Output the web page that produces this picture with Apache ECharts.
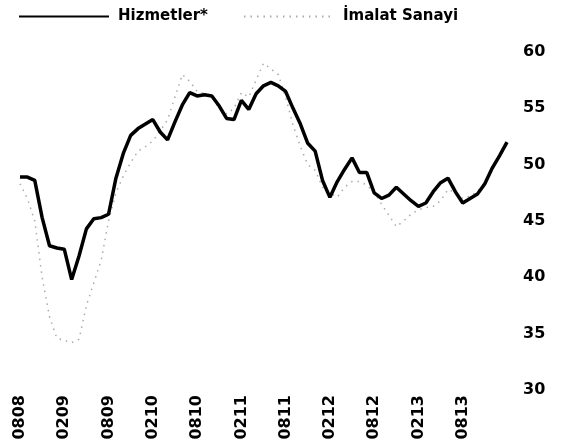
<!DOCTYPE html>
<html>
<head>
<meta charset="utf-8">
<script src="https://cdn.jsdelivr.net/npm/echarts@6/dist/echarts.min.js"></script>
<style>
  html, body { margin: 0; padding: 0; background: #fff; }
  #chart { width: 565px; height: 447px; }
</style>
</head>
<body>
<div id="chart"></div>
<script>
// aylar (AAYY), Ağustos 2008 - Şubat 2014
const months = [
  '0808', '0908', '1008', '1108', '1208', '0109', '0209', '0309', '0409', '0509', '0609', '0709',
  '0809', '0909', '1009', '1109', '1209', '0110', '0210', '0310', '0410', '0510', '0610', '0710',
  '0810', '0910', '1010', '1110', '1210', '0111', '0211', '0311', '0411', '0511', '0611', '0711',
  '0811', '0911', '1011', '1111', '1211', '0112', '0212', '0312', '0412', '0512', '0612', '0712',
  '0812', '0912', '1012', '1112', '1212', '0113', '0213', '0313', '0413', '0513', '0613', '0713',
  '0813', '0913', '1013', '1113', '1213', '0114', '0214'
]

// Hizmetler*
const services = [
  48.9, 48.9, 48.6, 45.3, 42.8, 42.6, 42.5, 39.8, 41.9, 44.3, 45.2, 45.3,
  45.6, 48.8, 51.0, 52.6, 53.2, 53.6, 54.0, 52.9, 52.2, 53.8, 55.3, 56.4,
  56.1, 56.2, 56.1, 55.2, 54.1, 54.0, 55.7, 54.9, 56.3, 57.0, 57.3, 57.0,
  56.5, 55.0, 53.6, 51.9, 51.2, 48.6, 47.1, 48.5, 49.6, 50.6, 49.3, 49.3,
  47.5, 47.0, 47.3, 48.0, 47.4, 46.8, 46.3, 46.6, 47.6, 48.4, 48.8, 47.6,
  46.6, 47.0, 47.4, 48.3, 49.7, 50.8, 52.0
]

// İmalat Sanayi
const manufacturing = [
  48.3, 47.0, 45.0, 40.0, 36.5, 34.6, 34.4, 34.2, 34.5, 37.5, 39.5, 41.5,
  45.0, 47.5, 49.0, 50.2, 51.2, 51.6, 52.1, 53.0, 54.0, 56.0, 58.0, 57.4,
  56.5, 56.3, 56.0, 55.0, 54.5, 55.0, 56.4, 56.0, 57.5, 59.0, 58.5, 58.0,
  56.0, 53.5, 51.6, 50.0, 49.5, 48.0, 47.5, 47.1, 48.0, 48.5, 48.5, 48.2,
  47.5, 46.5, 45.5, 44.5, 45.0, 45.6, 46.0, 46.2, 46.3, 46.8, 47.8, 47.5,
  47.0, 47.2, 47.6, 48.5, 49.8, 50.8, 51.8
]

const yTicks = [30, 35, 40, 45, 50, 55, 60]

const fontFamily = 'DejaVu Sans'

const myChart = echarts.init(document.getElementById('chart'))

const option = {
  backgroundColor: '#fff',
  animation: false,
  legend: {
    left: 13,
    top: 4,
    itemWidth: 90,
    itemHeight: 14,
    itemGap: 35,
    // sadece çizgi, sembol yok
    itemStyle: { opacity: 0 },
    textStyle: {
      fontFamily: fontFamily,
      fontSize: 15,
      fontWeight: 'bold',
      color: '#000',
      padding: [0, 0, 0, 4]
    },
    data: ['Hizmetler*', 'İmalat Sanayi']
  },
  grid: {
    left: 20,
    right: 58,
    top: 52,
    bottom: 57
  },
  xAxis: {
    type: 'category',
    boundaryGap: false,
    data: months,
    axisLine: { show: false },
    axisTick: { show: false },
    axisLabel: {
      rotate: 90,
      margin: 5,
      // her 6 ayda bir etiket, 0813'e kadar
      interval: (i) => i % 6 === 0 && i <= 60,
      fontFamily: fontFamily,
      fontSize: 16,
      fontWeight: 'bold',
      color: '#000'
    }
  },
  yAxis: {
    type: 'value',
    position: 'right',
    min: yTicks[0],
    max: yTicks[yTicks.length - 1],
    interval: 5,
    splitLine: { show: false },
    axisLine: { show: false },
    axisTick: { show: false },
    axisLabel: {
      margin: 16,
      fontFamily: fontFamily,
      fontSize: 16,
      fontWeight: 'bold',
      color: '#000'
    }
  },
  series: [
    {
      name: 'İmalat Sanayi',
      type: 'line',
      data: manufacturing,
      symbol: 'none',
      z: 1,
      itemStyle: { color: '#aaa' },
      lineStyle: {
        color: '#aaa',
        width: 1.5,
        type: [1.5, 5]
      }
    },
    {
      name: 'Hizmetler*',
      type: 'line',
      data: services,
      symbol: 'none',
      z: 2,
      itemStyle: { color: '#000' },
      lineStyle: {
        color: '#000',
        width: 3.5
      }
    }
  ]
}

myChart.setOption(option)
</script>
</body>
</html>
